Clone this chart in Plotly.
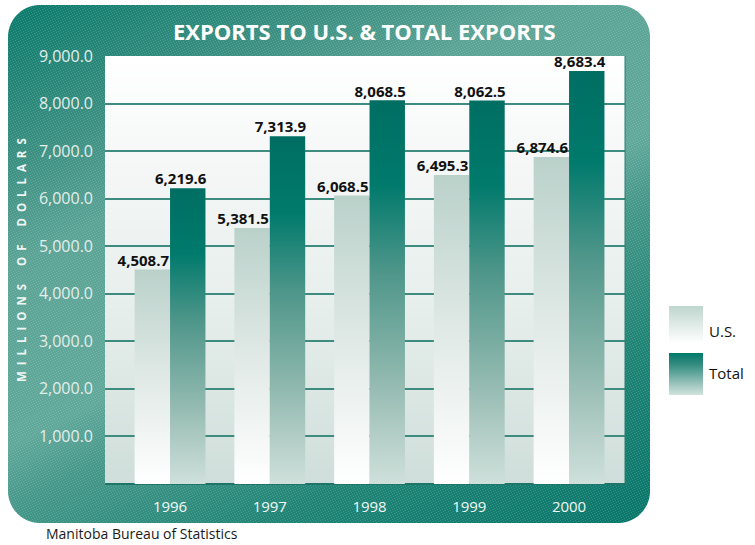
import base64
import struct
import zlib

import numpy as np
import plotly.graph_objects as go

# ---------------- data ----------------
years = ["1996", "1997", "1998", "1999", "2000"]
us_exports = [4508.7, 5381.5, 6068.5, 6495.3, 6874.6]
total_exports = [6219.6, 7313.9, 8068.5, 8062.5, 8683.4]
y_ticks = [1000, 2000, 3000, 4000, 5000, 6000, 7000, 8000, 9000]

# ---------------- geometry (pixels) ----------------
W, H = 755, 545
PL, PR, PT, PB = 105, 625, 56, 484          # plot area
BAR_W = 0.355

# ---------------- background image (panel, plot bg, legend swatches) ----------------
def hex2rgb(h):
    h = h.lstrip("#")
    return [int(h[i:i + 2], 16) for i in (0, 2, 4)]


def interp_stops(t, stops):
    pos = [s[0] for s in stops]
    cols = np.array([hex2rgb(s[1]) for s in stops], dtype=float)
    out = np.stack([np.interp(t, pos, cols[:, c]) for c in range(3)], axis=-1)
    return out


yy, xx = np.mgrid[0:H, 0:W].astype(float)
xc, yc = xx + 0.5, yy + 0.5
img = np.full((H, W, 3), 255.0)

# rounded teal panel
x0, x1, y0, y1, r = 8, 650, 5, 523, 32
cx, cy = (x0 + x1) / 2, (y0 + y1) / 2
hw, hh = (x1 - x0) / 2, (y1 - y0) / 2
qx = np.abs(xc - cx) - (hw - r)
qy = np.abs(yc - cy) - (hh - r)
sd = np.sqrt(np.maximum(qx, 0) ** 2 + np.maximum(qy, 0) ** 2) + np.minimum(np.maximum(qx, qy), 0) - r
cov = np.clip(0.5 - sd, 0, 1)[..., None]
s = 0.6 * (xc - x0) / (x1 - x0) + (yc - y0) / (y1 - y0)
panel = interp_stops(s, [
    (0.0, "#0a7a6b"), (0.3, "#3a8f81"), (0.5, "#5aa395"), (0.85, "#60a89a"),
    (0.97, "#46988a"), (1.25, "#1f8475"), (1.6, "#08766a"),
])
hatch = (((xx.astype(int) + 2 * yy.astype(int)) % 5) == 0)[..., None]
panel = np.where(hatch, panel * 0.84 + 255 * 0.16, panel)
img = img * (1 - cov) + panel * cov

# plot-area background gradient
t = (yc[PT:PB, PL:PR] - PT) / (PB - PT)
img[PT:PB, PL:PR] = interp_stops(t, [(0, "#ffffff"), (0.3, "#f3f6f5"), (0.6, "#e6eeeb"), (1, "#cfdeda")])

# legend swatches
sy0, sy1 = 306, 343
img[sy0:sy1, 669:703] = interp_stops((yc[sy0:sy1, 669:703] - sy0) / (sy1 - sy0),
                                     [(0, "#bfd5ce"), (1, "#ffffff")])
ty0, ty1 = 353, 395
img[ty0:ty1, 669:703] = interp_stops((yc[ty0:ty1, 669:703] - ty0) / (ty1 - ty0),
                                     [(0, "#007a6c"), (0.25, "#2f8a7d"), (1, "#d3e3de")])

img = np.clip(np.round(img), 0, 255).astype(np.uint8)


def to_png(rgb):
    h, w, _ = rgb.shape
    raw = b"".join(b"\x00" + rgb[i].tobytes() for i in range(h))

    def chunk(tag, data):
        c = struct.pack(">I", len(data)) + tag + data
        return c + struct.pack(">I", zlib.crc32(tag + data) & 0xFFFFFFFF)

    return (b"\x89PNG\r\n\x1a\n"
            + chunk(b"IHDR", struct.pack(">IIBBBBB", w, h, 8, 2, 0, 0, 0))
            + chunk(b"IDAT", zlib.compress(raw, 9))
            + chunk(b"IEND", b""))


bg_uri = "data:image/png;base64," + base64.b64encode(to_png(img)).decode()

# ---------------- figure ----------------
FONT = "Open Sans"
fig = go.Figure()

US_SCALE = [[0, "#ffffff"], [0.5, "#e0e9e6"], [1, "#bad1ca"]]
TOT_SCALE = [[0, "#cfe0db"], [0.12, "#b5cfc8"], [0.28, "#8fb8ae"], [0.55, "#4f968a"],
             [0.78, "#007a6c"], [1, "#006e62"]]

for i, (u, tot) in enumerate(zip(us_exports, total_exports)):
    for val, left, scale, name in ((u, i - BAR_W, US_SCALE, "U.S."), (tot, i, TOT_SCALE, "Total")):
        fig.add_trace(go.Scatter(
            x=[left, left + BAR_W, left + BAR_W, left, left],
            y=[0, 0, val, val, 0],
            mode="lines", fill="toself", line=dict(width=0),
            fillgradient=dict(type="vertical", colorscale=scale, start=0, stop=val),
            name=name, showlegend=False, hoverinfo="skip",
        ))

# value labels, right-aligned near each bar's right edge
label_font = dict(family=FONT, size=15, color="#111111", weight="bold")
fig.add_trace(go.Scatter(
    x=[i - 0.01 for i in range(len(years))], y=us_exports,
    text=[f"{v:,.1f}" for v in us_exports],
    mode="text", textposition="top left", textfont=label_font,
    cliponaxis=False, showlegend=False, hoverinfo="skip",
))
fig.add_trace(go.Scatter(
    x=[i + BAR_W + 0.01 for i in range(len(years))], y=total_exports,
    text=[f"{v:,.1f}" for v in total_exports],
    mode="text", textposition="top left", textfont=label_font,
    cliponaxis=False, showlegend=False, hoverinfo="skip",
))

fig.update_layout(
    width=W, height=H, autosize=False,
    margin=dict(l=0, r=0, t=0, b=0, pad=0, autoexpand=False),
    paper_bgcolor="white", plot_bgcolor="rgba(0,0,0,0)",
    showlegend=False,
    images=[dict(source=bg_uri, xref="paper", yref="paper", x=0, y=1, sizex=1, sizey=1,
                 xanchor="left", yanchor="top", sizing="stretch", layer="below")],
    xaxis=dict(
        domain=[PL / W, PR / W], range=[-0.652, 4.561],
        tickvals=list(range(len(years))), ticktext=years,
        showgrid=False, zeroline=False, showline=False, ticks="",
        ticklabelstandoff=12, automargin=False,
        tickfont=dict(family=FONT, size=15, color="#f2f7f5"),
        fixedrange=True,
    ),
    yaxis=dict(
        domain=[1 - PB / H, 1 - PT / H], range=[0, 9000],
        tickvals=y_ticks, tickformat=",.1f",
        showgrid=True, gridcolor="#3e8c80", gridwidth=1.5,
        zeroline=True, zerolinecolor="#1f7668", zerolinewidth=2,
        showline=False, ticks="", ticklabelstandoff=11, automargin=False,
        tickfont=dict(family=FONT, size=16, color="#e4eeeb"),
        fixedrange=True,
    ),
    shapes=[dict(type="line", xref="x domain", yref="y domain", x0=1, x1=1, y0=0, y1=1,
                 line=dict(color="#2b7d70", width=1))],
)

nb = "\u00a0"
ytitle = (nb * 6).join((nb * 2).join(word) for word in ["MILLIONS", "OF", "DOLLARS"])

annotations = [
    dict(text="EXPORTS TO U.S. & TOTAL EXPORTS", x=364 / W, y=1 - 31 / H, xref="paper", yref="paper",
         showarrow=False, xanchor="center", yanchor="middle",
         font=dict(family=FONT, size=22, color="white", weight="bold")),
    dict(text=ytitle, x=21 / W, y=1 - 260 / H, xref="paper", yref="paper", textangle=-90,
         showarrow=False, xanchor="center", yanchor="middle",
         font=dict(family=FONT, size=11.5, color="#f0f6f4", weight="bold")),
    dict(text="U.S.", x=707 / W, y=1 - 331 / H, xref="paper", yref="paper",
         showarrow=False, xanchor="left", yanchor="middle",
         font=dict(family=FONT, size=15, color="#111111")),
    dict(text="Total", x=707 / W, y=1 - 373 / H, xref="paper", yref="paper",
         showarrow=False, xanchor="left", yanchor="middle",
         font=dict(family=FONT, size=15, color="#111111")),
    dict(text="Manitoba Bureau of Statistics", x=45 / W, y=0.002, xref="paper", yref="paper",
         showarrow=False, xanchor="left", yanchor="bottom", borderpad=0,
         font=dict(family=FONT, size=14, color="#1a1a1a")),
]
fig.update_layout(annotations=annotations)

fig.write_html("out.html")
